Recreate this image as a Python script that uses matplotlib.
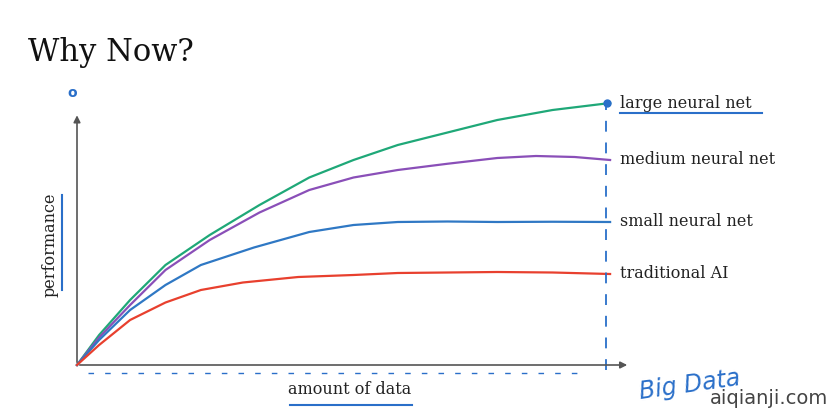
import matplotlib
matplotlib.use("Agg")
import matplotlib.pyplot as plt

large_x = [0, 4, 9.6, 16, 24, 33, 42, 50, 58, 67, 76, 86, 96.4]
large_y = [0, 12, 26, 40, 52, 64, 75, 82, 88, 93, 98, 102, 104.8]
med_x = [0, 4, 9.6, 16, 24, 33, 42, 50, 58, 67, 76, 83, 90, 96.4]
med_y = [0, 11, 24, 38, 50, 61, 70, 75, 78, 80.5, 82.8, 83.6, 83.2, 82]
small_x = [0, 4, 9.6, 16, 22.4, 32, 42, 50, 58, 67, 76, 86, 96.4]
small_y = [0, 10, 22, 32, 40, 47, 53.2, 56, 57.2, 57.4, 57.2, 57.3, 57.2]
trad_x = [0, 4, 9.6, 16, 22.4, 30, 40, 50, 58, 67, 76, 86, 96.4]
trad_y = [0, 8, 18, 25, 30, 33, 35.2, 36, 36.8, 37, 37.2, 37, 36.4]
labels = ["large neural net", "medium neural net", "small neural net", "traditional AI"]
colors = ["#1fa878", "#8a4fb8", "#2f78c4", "#e8402e"]

W, H = 839, 416
fig = plt.figure(figsize=(W/100, H/100), dpi=100)
fig.patch.set_facecolor("white")
x0, x1, y0, y1 = 77, 630, 365, 115
ax = fig.add_axes([x0/W, 1-y0/H, (x1-x0)/W, (y0-y1)/H])
ax.set_xlim(0, 100); ax.set_ylim(0, 100)
ax.axis("off")
ax.set_clip_on(False)
for xs, ys, c, lab in zip([large_x, med_x, small_x, trad_x],
                          [large_y, med_y, small_y, trad_y], colors, labels):
    ax.plot(xs, ys, color=c, lw=1.6, clip_on=False)
    ax.text(98.2, ys[-1], lab, fontsize=11.5, family="DejaVu Serif",
            va="center", ha="left", color="#222")
ax.annotate("", xy=(0, 101), xytext=(0, 0),
            arrowprops=dict(arrowstyle="-|>", color="#555", lw=1.2), annotation_clip=False)
ax.annotate("", xy=(100, 0), xytext=(0, 0),
            arrowprops=dict(arrowstyle="-|>", color="#555", lw=1.2), annotation_clip=False)
# hand annotations
ax.plot([95.7, 95.7], [-2, 104], color="#2a6fc9", lw=1.3, ls=(0, (6, 6)), clip_on=False)
ax.plot([95.9], [104.8], "o", color="#2a6fc9", ms=5, clip_on=False)
ax.plot([2, 92], [-3, -3], color="#2a6fc9", lw=1, ls=(0, (4, 8)), clip_on=False)

fig.text(28/W, 1-52/H, "Why Now?", fontsize=22, family="DejaVu Serif", va="center", color="#111")
fig.text(50/W, 1-245/H, "performance", fontsize=11.5, family="DejaVu Serif",
         rotation=90, va="center", ha="center", color="#222")
fig.text(350/W, 1-390/H, "amount of data", fontsize=11.5, family="DejaVu Serif",
         va="center", ha="center", color="#222")
fig.text(690/W, 1-385/H, "Big Data", fontsize=17, family="DejaVu Sans", style="italic",
         va="center", ha="center", color="#2a6fc9", rotation=8)
fig.text(72/W, 1-93/H, "o", fontsize=10, color="#2a6fc9", ha="center", va="center", weight="bold")
fig.add_artist(plt.Line2D([620/W, 762/W], [1-113/H, 1-113/H], color="#2a6fc9", lw=1.5))
fig.add_artist(plt.Line2D([290/W, 412/W], [1-405/H, 1-405/H], color="#2a6fc9", lw=1.5))
fig.add_artist(plt.Line2D([62/W, 62/W], [1-195/H, 1-290/H], color="#2a6fc9", lw=1.5))
fig.text(828/W, 1-398/H, "aiqianji.com", fontsize=14, color="#444", ha="right", va="center")
fig.savefig("out.png", dpi=100)
